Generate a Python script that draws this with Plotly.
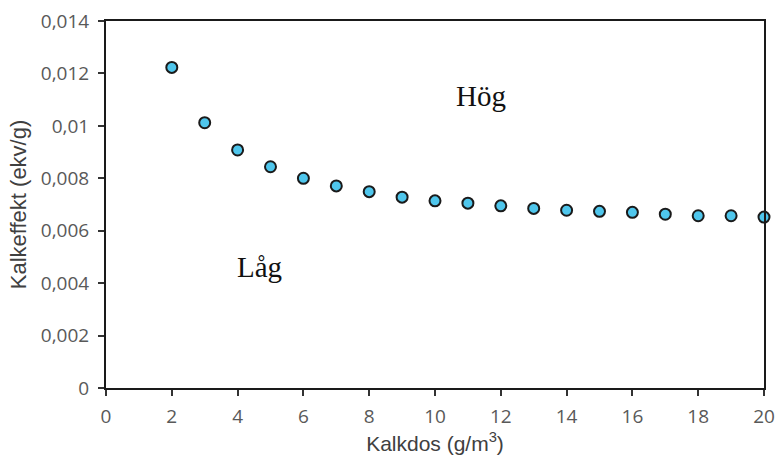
import plotly.graph_objects as go

kalkdos = [2, 3, 4, 5, 6, 7, 8, 9, 10, 11, 12, 13, 14, 15, 16, 17, 18, 19, 20]
kalkeffekt = [0.01223, 0.01012, 0.00908, 0.00844, 0.00800, 0.00771, 0.00749, 0.00728,
              0.00714, 0.00705, 0.00695, 0.00685, 0.00678, 0.00674, 0.00670, 0.00663,
              0.00657, 0.00657, 0.00652]

x_ticks = [0, 2, 4, 6, 8, 10, 12, 14, 16, 18, 20]
y_ticks = [0, 0.002, 0.004, 0.006, 0.008, 0.01, 0.012, 0.014]
y_ticklabels = ["0", "0,002", "0,004", "0,006", "0,008", "0,01", "0,012", "0,014"]

labels = ["Hög", "Låg"]
label_x = [11.4, 4.67]
label_y = [0.01114, 0.00463]

fig = go.Figure()
fig.add_trace(go.Scatter(
    x=kalkdos, y=kalkeffekt, mode="markers",
    marker=dict(size=11, color="#4FC6EC", line=dict(color="#1a1a1a", width=2)),
    cliponaxis=False, showlegend=False,
))

for t, xx, yy in zip(labels, label_x, label_y):
    fig.add_annotation(x=xx, y=yy, text=t, showarrow=False,
                       font=dict(family="Liberation Serif", size=29, color="#111111"),
                       xanchor="center", yanchor="middle")

axis_common = dict(
    showline=True, linecolor="#1a1a1a", linewidth=2, mirror=True,
    ticks="outside", ticklen=6, tickwidth=1.5, tickcolor="#333333",
    showgrid=False, zeroline=False, automargin=False,
    tickfont=dict(family="Open Sans", size=19, color="#595959"),
)

fig.update_layout(
    width=776, height=459,
    margin=dict(l=106, r=12, t=21, b=71),
    paper_bgcolor="white", plot_bgcolor="white",
    xaxis=dict(range=[0, 20], tickvals=x_ticks, ticklabelstandoff=4,
               title=dict(text="Kalkdos (g/m<sup>3</sup>)", standoff=6,
                          font=dict(family="Liberation Sans", size=21, color="#404040")),
               **axis_common),
    yaxis=dict(range=[0, 0.014], tickvals=y_ticks, ticktext=y_ticklabels,
               ticklabelstandoff=5,
               title=dict(text="Kalkeffekt (ekv/g)", standoff=8,
                          font=dict(family="Liberation Sans", size=22, color="#404040")),
               **axis_common),
)

fig.write_html("out.html")
